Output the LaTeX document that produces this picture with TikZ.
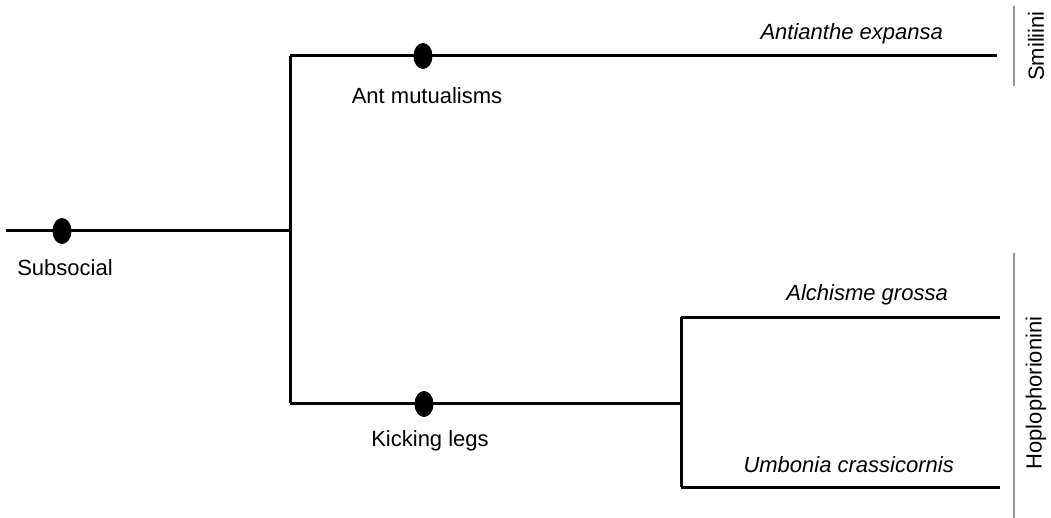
\documentclass[tikz,border=0pt]{standalone}
\usepackage{fontspec}
\setmainfont{Liberation Sans}
\usetikzlibrary{shapes.geometric}
\begin{document}
\begin{tikzpicture}[x=1pt,y=-1pt,
  branch/.style={line width=3pt},
  trait/.style={ellipse,fill=black,minimum width=19pt,minimum height=26pt,inner sep=0pt},
  lbl/.style={font=\fontsize{22}{26}\selectfont,inner sep=0pt},
  taxon/.style={font=\fontsize{22}{26}\selectfont\itshape,inner sep=0pt},
  clade/.style={line width=1.8pt,draw=gray!85},
  cladelbl/.style={font=\fontsize{22}{26}\selectfont,inner sep=0pt,rotate=90}]
\useasboundingbox (0,0) rectangle (1051,518);
% tree skeleton
\coordinate (r0) at (6,231);
\coordinate (r1) at (290,231);
\coordinate (t0) at (290,56);
\coordinate (t1) at (997,56);
\coordinate (b0) at (290,403);
\coordinate (b1) at (681,403);
\coordinate (u0) at (681,317);
\coordinate (u1) at (1000,317);
\coordinate (l0) at (681,487);
\coordinate (l1) at (1000,487);
\draw[branch] (r0) -- (r1);
\draw[branch] (t0) -- (b0);
\draw[branch] (t0) -- (t1);
\draw[branch] (b0) -- (b1);
\draw[branch] (u0) -- (l0);
\draw[branch] (u0) -- (u1);
\draw[branch] (l0) -- (l1);
% character states
\node[trait] (m1) at (62,231) {};
\node[trait] (m2) at (423,56) {};
\node[trait] (m3) at (424,404) {};
\node[lbl] (s1) at (65,268) {Subsocial};
\node[lbl] (s2) at (427,96) {Ant mutualisms};
\node[lbl] (s3) at (430,441) {Kicking legs};
% taxa
\node[taxon,anchor=east] (a) at (943,34) {Antianthe expansa};
\node[taxon,anchor=east] (b) at (948,295) {Alchisme grossa};
\node[taxon,anchor=east] (c) at (954,465) {Umbonia crassicornis};
% tribes
\coordinate (g0) at (1014,6);
\coordinate (g1) at (1014,86);
\coordinate (h0) at (1014,253);
\coordinate (h1) at (1014,518);
\draw[clade] (g0) -- (g1);
\draw[clade] (h0) -- (h1);
\node[cladelbl] (smi) at (1036,46) {Smiliini};
\node[cladelbl] (hop) at (1036,393) {Hoplophorionini};
\end{tikzpicture}
\end{document}
